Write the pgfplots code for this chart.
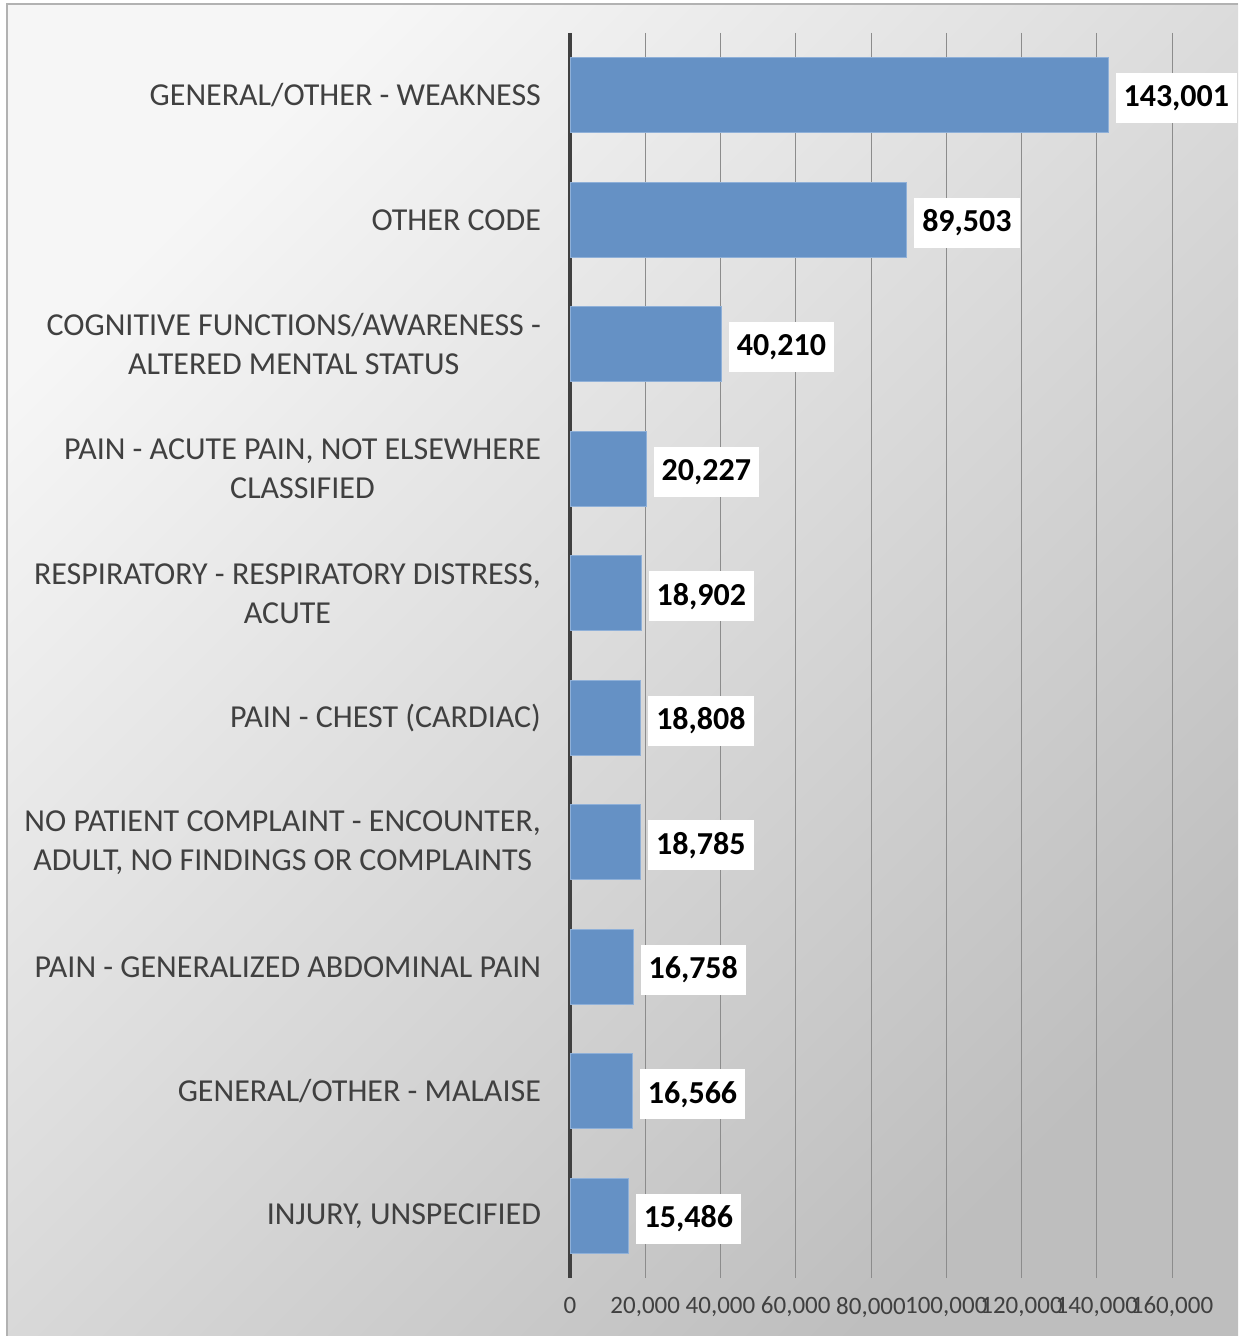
\documentclass[border=0pt]{standalone}
\usepackage{pgfplots}
\pgfplotsset{compat=1.18}
\usepackage{fontspec}
\setmainfont{Carlito}
\definecolor{barblue}{RGB}{101,145,197}
\definecolor{baredge}{RGB}{143,176,216}
\definecolor{txtgray}{RGB}{64,64,64}
\definecolor{gridgray}{RGB}{140,140,140}
\definecolor{bglight}{RGB}{246,246,246}
\definecolor{bgdark}{RGB}{190,190,190}
\begin{document}
\begin{tikzpicture}
\useasboundingbox (0,0) rectangle (619pt,668pt);
\fill[white] (0,0) rectangle (619pt,668pt);
\shade[shading=axis, top color=bglight, bottom color=bgdark, shading angle=45] (3.5pt,0) rectangle (619pt,666pt);
\draw[gray!60, line width=0.6pt] (3.5pt,0) -- (3.5pt,666pt) -- (619pt,666pt);
\begin{axis}[
  at={(285pt,29pt)}, anchor=south west,
  scale only axis, width=301pt, height=622.5pt,
  xbar, bar width=0.6,
  xmin=0, xmax=160000,
  ymin=-0.5, ymax=9.5, y dir=reverse,
  clip=false,
  /pgf/number format/assume math mode=true,
  xtick={0,20000,...,160000},
  scaled x ticks=false,
  xticklabel style={font=\fontsize{12.5}{15}\selectfont, text=txtgray, yshift=-6pt, /pgf/number format/.cd, fixed, precision=0, 1000 sep={,}},
  ytick={0,...,9},
  yticklabels={
    {GENERAL/OTHER - WEAKNESS},
    {OTHER CODE},
    {COGNITIVE FUNCTIONS/AWARENESS -\\ALTERED MENTAL STATUS},
    {PAIN - ACUTE PAIN, NOT ELSEWHERE\\CLASSIFIED},
    {RESPIRATORY - RESPIRATORY DISTRESS,\\ACUTE},
    {PAIN - CHEST (CARDIAC)},
    {NO PATIENT COMPLAINT - ENCOUNTER,\\ADULT, NO FINDINGS OR COMPLAINTS},
    {PAIN - GENERALIZED ABDOMINAL PAIN},
    {GENERAL/OTHER - MALAISE},
    {INJURY, UNSPECIFIED}},
  yticklabel style={font=\fontsize{16}{19.5}\selectfont, text=txtgray, align=center, anchor=east, xshift=-11pt},
  major tick length=0pt,
  xmajorgrids, grid style={gridgray, line width=0.5pt},
  axis x line*=bottom, axis y line*=left,
  x axis line style={draw=none},
  y axis line style={txtgray, line width=1.6pt, -},
  nodes near coords={\pgfmathprintnumber[fixed,precision=0,1000 sep={,}]{\pgfplotspointmeta}},
  nodes near coords style={anchor=west, fill=white, text=black, font=\fontsize{16}{18}\selectfont\bfseries, inner xsep=4pt, minimum height=25pt, xshift=3.5pt, yshift=-1.5pt},
]
\addplot[fill=barblue, draw=baredge, line width=0.5pt] coordinates {
(143001,0) (89503,1) (40210,2) (20227,3) (18902,4) (18808,5) (18785,6) (16758,7) (16566,8) (15486,9)};
\end{axis}
\end{tikzpicture}
\end{document}
